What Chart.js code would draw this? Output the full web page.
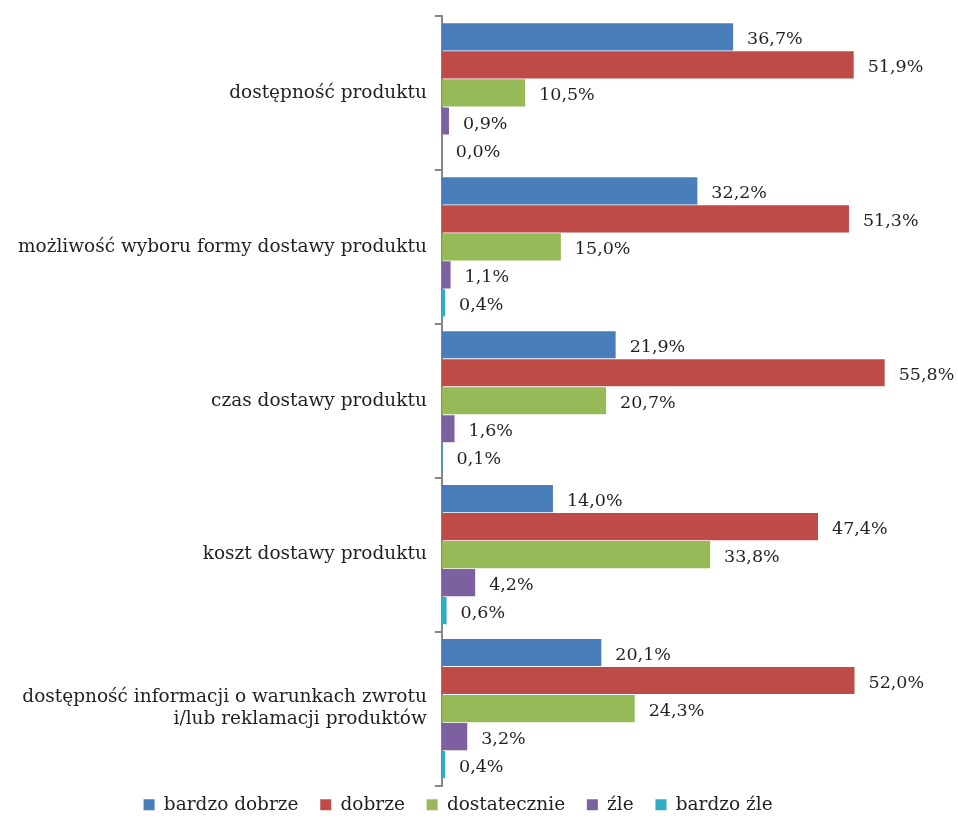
<!DOCTYPE html>
<html>
<head>
<meta charset="utf-8">
<script src="https://cdn.jsdelivr.net/npm/chart.js@4"></script>
<style>
  html, body { margin: 0; padding: 0; background: #fff; }
  #wrap { width: 958px; height: 818px; }
</style>
</head>
<body>
<div id="wrap"><canvas id="graph"></canvas></div>
<script>
const categories = [
    'dostępność produktu',
    'możliwość wyboru formy dostawy produktu',
    'czas dostawy produktu',
    'koszt dostawy produktu',
    ['dostępność informacji o warunkach zwrotu', 'i/lub reklamacji produktów']
];
const seriesNames = ['bardzo dobrze', 'dobrze', 'dostatecznie', 'źle', 'bardzo źle'];
const bardzoDobrze = [36.7, 32.2, 21.9, 14.0, 20.1];
const dobrze = [51.9, 51.3, 55.8, 47.4, 52.0];
const dostatecznie = [10.5, 15.0, 20.7, 33.8, 24.3];
const zle = [0.9, 1.1, 1.6, 4.2, 3.2];
const bardzoZle = [0.0, 0.4, 0.1, 0.6, 0.4];
const colors = ['#4a7ebb', '#be4b48', '#96ba57', '#7d60a0', '#2fadc4'];

const serif = '"DejaVu Serif", "Liberation Serif", serif';

// wartości procentowe przy końcach słupków
const valueLabels = {
    id: 'valueLabels',
    afterDatasetsDraw(chart) {
        const ctx = chart.ctx;
        ctx.save();
        ctx.font = '17.5px ' + serif;
        ctx.fillStyle = '#231f20';
        ctx.textAlign = 'left';
        ctx.textBaseline = 'middle';
        chart.data.datasets.forEach((ds, i) => {
            chart.getDatasetMeta(i).data.forEach((bar, j) => {
                const txt = ds.data[j].toFixed(1).replace('.', ',') + '%';
                ctx.fillText(txt, bar.x + 14, bar.y + 3);
            });
        });
        ctx.restore();
    }
};

const allSeries = [bardzoDobrze, dobrze, dostatecznie, zle, bardzoZle];

new Chart(document.getElementById('graph'), {
    type: 'bar',
    data: {
        labels: categories,
        datasets: allSeries.map((d, i) => ({
            label: seriesNames[i],
            data: d,
            backgroundColor: colors[i],
            borderWidth: 0,
            barPercentage: 0.97,
            categoryPercentage: 0.91
        }))
    },
    plugins: [valueLabels],
    options: {
        indexAxis: 'y',
        responsive: true,
        maintainAspectRatio: false,
        animation: false,
        layout: { padding: { top: 16, right: 40, left: 10, bottom: -6 } },
        scales: {
            x: {
                display: false,
                min: 0,
                max: 60
            },
            y: {
                afterFit(s) {
                    s.paddingTop = 0;
                    s.paddingBottom = 0;
                },
                grid: {
                    display: true,
                    drawOnChartArea: false,
                    drawTicks: true,
                    tickLength: 7,
                    color: '#868686',
                    lineWidth: 2
                },
                border: { display: true, color: '#868686', width: 2 },
                ticks: {
                    font: { family: serif, size: 18.5 },
                    color: '#231f20',
                    padding: 8
                }
            }
        },
        plugins: {
            legend: {
                position: 'bottom',
                labels: {
                    font: { family: serif, size: 18.5 },
                    color: '#231f20',
                    boxWidth: 11,
                    boxHeight: 11,
                    padding: 10,
                    // odstęp między pozycjami legendy
                    generateLabels(chart) {
                        const items = Chart.defaults.plugins.legend.labels.generateLabels(chart);
                        items.forEach(it => { it.text = it.text + '  '; });
                        return items;
                    }
                }
            },
            tooltip: { enabled: false }
        }
    }
});
</script>
</body>
</html>
